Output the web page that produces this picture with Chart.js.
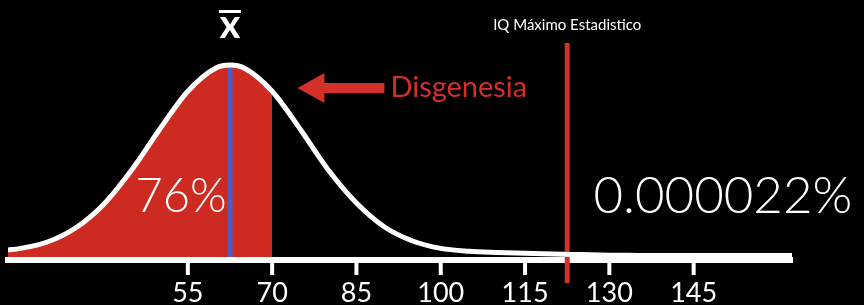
<!DOCTYPE html>
<html lang="es">
<head>
<meta charset="utf-8">
<title>Disgenesia</title>
<script src="https://cdn.jsdelivr.net/npm/chart.js@4.4.1/dist/chart.umd.min.js"></script>
<style>
    html, body { margin: 0; padding: 0; background: #000; }
    #contenedor { width: 864px; height: 305px; position: relative; }
</style>
</head>
<body>
<div id="contenedor"><canvas id="grafico-iq"></canvas></div>
<script>
// --- Datos ---
const valoresIQ = [23, 25, 30, 35, 40, 45, 50, 55, 60, 62.5, 65, 70, 75, 80, 85, 90, 95, 100,
    105, 110, 115, 120, 125, 130, 135, 140, 145, 150, 155, 160, 162.5];
const frecuencia = [5, 5.7, 9, 16, 27.8, 45, 65.4, 84.4, 96, 97.5, 96, 84.4, 65.4, 45, 28.5, 16.5, 9.5, 5.8,
    4.4, 3.8, 3.4, 3, 2.7, 2.4, 2.3, 2.2, 2.2, 2.2, 2.2, 2.2, 2.2];
const ticksIQ = [55, 70, 85, 100, 115, 130, 145];
const mediaIQ = 62.5;
const limiteDisgenesia = 70;
const iqMaximo = 122.5;
const textoDebajo = '76%';
const textoArriba = '0.000022%';

// --- Colores ---
const BLANCO = '#ffffff';
const ROJO = '#cd2b22';
const ROJO_LINEA = '#d3302a';
const AZUL = '#4b5ccb';
const FUENTE = 'Lato, "Open Sans", sans-serif';

const curva = valoresIQ.map((x, i) => ({ x, y: frecuencia[i] }));
const zonaRoja = curva.filter(p => p.x <= limiteDisgenesia);

// Marcas cortas bajo el eje, una por tick (fuera del área, sin recorte)
const marcasEje = ticksIQ.map(v => ({
    label: 'tick ' + v,
    data: [{ x: v, y: -0.5 }, { x: v, y: -7.5 }],
    borderColor: BLANCO,
    borderWidth: 4,
    pointRadius: 0,
    clip: false,
    fill: false
}));

/**
 * Dibuja textos, flecha y la marca de la media encima del gráfico.
 */
const anotaciones = {
    id: 'anotaciones',
    afterDatasetsDraw(chart) {
        const { ctx, scales: { x, y } } = chart;
        ctx.save();

        // x barra (media)
        const xm = x.getPixelForValue(mediaIQ);
        ctx.fillStyle = BLANCO;
        ctx.font = `bold 40px ${FUENTE}`;
        ctx.textAlign = 'center';
        ctx.textBaseline = 'alphabetic';
        ctx.fillText('x', xm, 38);
        ctx.fillRect(xm - 11, 10, 22, 3);

        // Etiqueta del IQ máximo
        ctx.font = `15px ${FUENTE}`;
        ctx.textBaseline = 'middle';
        ctx.fillText('IQ Máximo Estadistico', x.getPixelForValue(iqMaximo), 25);

        // Flecha y texto "Disgenesia"
        const yf = y.getPixelForValue(86);
        const punta = x.getPixelForValue(74.5);
        const baseCabeza = punta + 27;
        const cola = punta + 87;
        ctx.fillStyle = ROJO_LINEA;
        ctx.fillRect(baseCabeza - 1, yf - 5, cola - baseCabeza + 1, 10);
        ctx.beginPath();
        ctx.moveTo(punta, yf);
        ctx.lineTo(baseCabeza, yf - 15);
        ctx.lineTo(baseCabeza, yf + 15);
        ctx.closePath();
        ctx.fill();
        ctx.font = `29px ${FUENTE}`;
        ctx.textAlign = 'left';
        ctx.fillText('Disgenesia', cola + 6, yf);

        // Porcentajes
        ctx.fillStyle = BLANCO;
        ctx.font = `300 47px ${FUENTE}`;
        ctx.textAlign = 'center';
        ctx.fillText(textoDebajo, x.getPixelForValue(53.8), y.getPixelForValue(31.5));
        ctx.font = `300 51px ${FUENTE}`;
        ctx.fillText(textoArriba, x.getPixelForValue(150.2), y.getPixelForValue(31.5));

        ctx.restore();
    }
};

new Chart(document.getElementById('grafico-iq'), {
    type: 'line',
    data: {
        datasets: [
            {
                label: 'Distribución',
                data: curva,
                borderColor: BLANCO,
                borderWidth: 5,
                pointRadius: 0,
                cubicInterpolationMode: 'monotone',
                fill: false
            },
            {
                label: 'Media',
                data: [{ x: mediaIQ, y: 1.5 }, { x: mediaIQ, y: 97.5 }],
                borderColor: AZUL,
                borderWidth: 5,
                pointRadius: 0,
                fill: false
            },
            {
                label: 'IQ Máximo',
                data: [{ x: iqMaximo, y: -11.5 }, { x: iqMaximo, y: 108.5 }],
                borderColor: ROJO_LINEA,
                borderWidth: 5,
                pointRadius: 0,
                clip: false,
                fill: false
            },
            ...marcasEje,
            {
                label: 'Disgenesia',
                data: zonaRoja,
                borderWidth: 0,
                borderColor: 'rgba(0,0,0,0)',
                backgroundColor: ROJO,
                pointRadius: 0,
                cubicInterpolationMode: 'monotone',
                fill: { value: 1.5 }
            }
        ]
    },
    options: {
        responsive: true,
        maintainAspectRatio: false,
        animation: false,
        events: [],
        layout: { padding: { left: 8, right: 72, top: 0, bottom: 0 } },
        plugins: {
            legend: { display: false },
            tooltip: { enabled: false }
        },
        scales: {
            x: {
                type: 'linear',
                min: 23,
                max: 162.5,
                afterBuildTicks: (scale) => {
                    scale.ticks = ticksIQ.map(v => ({ value: v }));
                },
                afterFit: (scale) => {
                    scale.height = 45;
                },
                border: { display: true, color: BLANCO, width: 6 },
                grid: {
                    display: false,
                    drawTicks: true,
                    tickLength: 14
                },
                ticks: {
                    color: BLANCO,
                    padding: 7,
                    autoSkip: false,
                    maxRotation: 0,
                    font: { family: FUENTE, size: 27, lineHeight: 0.9 }
                }
            },
            y: {
                display: false,
                min: 0,
                max: 130
            }
        }
    },
    plugins: [anotaciones]
});
</script>
</body>
</html>
